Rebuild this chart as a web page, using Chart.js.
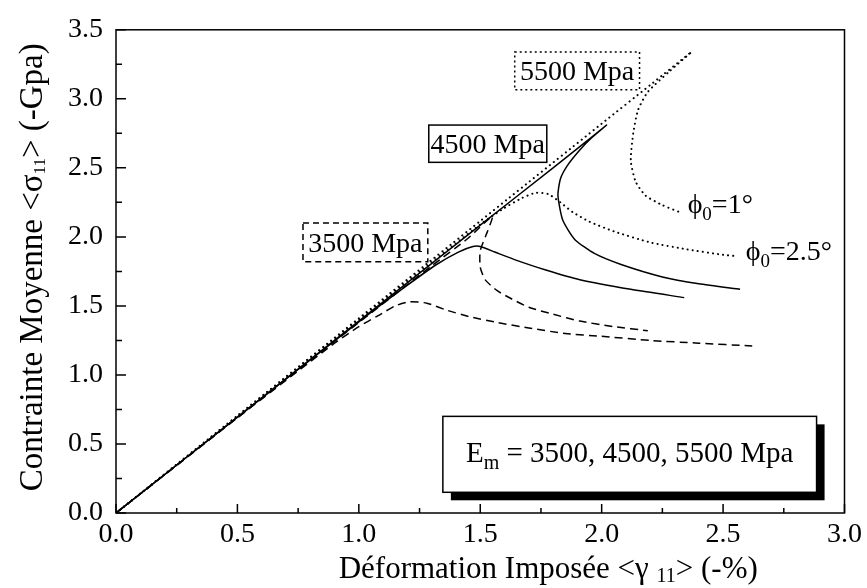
<!DOCTYPE html>
<html>
<head>
<meta charset="utf-8">
<script src="https://cdn.jsdelivr.net/npm/chart.js@4.4.1/dist/chart.umd.min.js"></script>
<style>
  body { margin: 0; background: #fff; }
  canvas { display: block; }
</style>
</head>
<body>
<canvas id="myChart" width="867" height="588"></canvas>
<script>
// values: strain <γ11> in %, stress <σ11> in GPa
const xTickLabels = ['0.0', '0.5', '1.0', '1.5', '2.0', '2.5', '3.0'];
const yTickLabels = ['0.0', '0.5', '1.0', '1.5', '2.0', '2.5', '3.0', '3.5'];

// Em = 3500 MPa (dashed)
const e3500_phi25_x = [0, 0.5, 0.9, 1.0, 1.08, 1.15, 1.21, 1.28, 1.36, 1.46, 1.57, 1.7, 1.85, 2.0, 2.2, 2.4, 2.62];
const e3500_phi25_y = [0, 0.69, 1.23, 1.35, 1.43, 1.50, 1.53, 1.52, 1.47, 1.42, 1.38, 1.34, 1.30, 1.28, 1.25, 1.23, 1.21];
const e3500_phi1_x = [0, 0.5, 1.0, 1.3, 1.45, 1.55, 1.53, 1.50, 1.50, 1.52, 1.57, 1.63, 1.70, 1.80, 1.91, 2.05, 2.19];
const e3500_phi1_y = [0, 0.69, 1.38, 1.79, 1.99, 2.15, 2.04, 1.90, 1.78, 1.69, 1.61, 1.55, 1.49, 1.44, 1.39, 1.35, 1.32];

// Em = 4500 MPa (solid)
const e4500_phi25_x = [0, 0.5, 1.0, 1.2, 1.32, 1.41, 1.47, 1.50, 1.56, 1.65, 1.77, 1.91, 2.12, 2.34];
const e4500_phi25_y = [0, 0.695, 1.385, 1.65, 1.80, 1.89, 1.93, 1.93, 1.89, 1.83, 1.76, 1.69, 1.62, 1.56];
const e4500_phi1_x = [0, 0.5, 1.0, 1.5, 1.8, 1.95, 2.02, 1.96, 1.91, 1.86, 1.83, 1.82, 1.84, 1.89, 1.97, 2.08, 2.25, 2.4, 2.57];
const e4500_phi1_y = [0, 0.695, 1.39, 2.085, 2.50, 2.71, 2.81, 2.72, 2.63, 2.52, 2.42, 2.30, 2.12, 1.98, 1.88, 1.80, 1.71, 1.66, 1.62];

// Em = 5500 MPa (dotted)
const e5500_phi25_x = [0, 0.5, 1.0, 1.5, 1.6, 1.67, 1.73, 1.78, 1.83, 1.88, 1.95, 2.05, 2.2, 2.35, 2.5, 2.56];
const e5500_phi25_y = [0, 0.70, 1.40, 2.09, 2.21, 2.28, 2.32, 2.31, 2.25, 2.18, 2.11, 2.04, 1.96, 1.91, 1.87, 1.86];
const e5500_phi1_x = [0, 0.5, 1.0, 1.5, 2.0, 2.2, 2.37, 2.28, 2.19, 2.15, 2.13, 2.12, 2.14, 2.18, 2.25, 2.32];
const e5500_phi1_y = [0, 0.705, 1.41, 2.115, 2.82, 3.10, 3.34, 3.20, 3.05, 2.92, 2.75, 2.55, 2.40, 2.30, 2.23, 2.18];

const pts = (xs, ys) => xs.map((x, i) => ({ x: x, y: ys[i] }));

const SERIF = "'Liberation Serif', 'Times New Roman', serif";

// boxed labels, placed in data units
const boxLabels = [
    { text: '5500 Mpa', x0: 1.642, x1: 2.156, y0: 3.34, y1: 3.065, dash: [2, 3] },
    { text: '4500 Mpa', x0: 1.288, x1: 1.774, y0: 2.81, y1: 2.54, dash: [] },
    { text: '3500 Mpa', x0: 0.770, x1: 1.284, y0: 2.10, y1: 1.82, dash: [6, 4] }
];
const phiLabels = [
    { value: '=1°', x: 2.354, y: 2.226 },
    { value: '=2.5°', x: 2.593, y: 1.885 }
];
const legendBox = { x0: 1.346, x1: 2.885, y0: 0.70, y1: 0.15 };

// axis titles: [text, font size, baseline shift]
const xTitleParts = [['Déformation Imposée <γ ', 31, 0], ['11', 20, 7], ['> (-%)', 31, 0]];
const yTitleParts = [['Contrainte Moyenne <σ', 33, 0], ['11', 17, 8], ['> (-Gpa)', 33, 0]];

function lineSet(label, data, dash, cap) {
    return {
        label: label,
        data: data,
        showLine: true,
        borderColor: '#000',
        backgroundColor: '#000',
        borderWidth: cap === 'round' ? 2 : 1.5,
        borderDash: dash,
        borderCapStyle: cap || 'butt',
        pointRadius: 0,
        tension: 0.2
    };
}

function drawParts(ctx, parts, cx, cy) {
    let w = 0;
    parts.forEach(p => { ctx.font = p[1] + 'px ' + SERIF; w += ctx.measureText(p[0]).width; });
    let tx = cx - w / 2;
    parts.forEach(p => {
        ctx.font = p[1] + 'px ' + SERIF;
        ctx.fillText(p[0], tx, cy + p[2]);
        tx += ctx.measureText(p[0]).width;
    });
}

const figurePlugin = {
    id: 'figure',
    afterDatasetsDraw(chart) {
        const { ctx, chartArea: a, scales: { x, y } } = chart;
        ctx.save();
        ctx.strokeStyle = '#000';
        ctx.fillStyle = '#000';
        ctx.lineWidth = 1.5;
        ctx.setLineDash([]);
        ctx.strokeRect(a.left, a.top, a.right - a.left, a.bottom - a.top);

        // inward ticks, major every 0.5 and minor every 0.25
        ctx.beginPath();
        for (let i = 0; i <= 12; i++) {
            const px = x.getPixelForValue(i * 0.25);
            const len = i % 2 === 0 ? 9 : 5;
            ctx.moveTo(px, a.bottom);
            ctx.lineTo(px, a.bottom - len);
        }
        for (let i = 0; i <= 14; i++) {
            const py = y.getPixelForValue(i * 0.25);
            const len = i % 2 === 0 ? 10 : 6;
            ctx.moveTo(a.left, py);
            ctx.lineTo(a.left + len, py);
        }
        ctx.stroke();

        // boxed Em labels
        ctx.font = '28px ' + SERIF;
        ctx.textAlign = 'center';
        ctx.textBaseline = 'middle';
        boxLabels.forEach(b => {
            const l = x.getPixelForValue(b.x0), r = x.getPixelForValue(b.x1);
            const t = y.getPixelForValue(b.y0), bt = y.getPixelForValue(b.y1);
            ctx.fillStyle = '#fff';
            ctx.fillRect(l, t, r - l, bt - t);
            ctx.setLineDash(b.dash);
            ctx.lineWidth = 1.5;
            ctx.strokeRect(l, t, r - l, bt - t);
            ctx.setLineDash([]);
            ctx.fillStyle = '#000';
            ctx.font = '28px ' + SERIF;
            ctx.fillText(b.text, (l + r) / 2, (t + bt) / 2 + 2);
        });

        // phi0 labels
        ctx.textAlign = 'left';
        phiLabels.forEach(p => {
            let px = x.getPixelForValue(p.x);
            const py = y.getPixelForValue(p.y);
            ctx.font = '28px ' + SERIF;
            ctx.fillText('\u03D5', px, py);
            px += ctx.measureText('\u03D5').width;
            ctx.font = '19px ' + SERIF;
            ctx.fillText('0', px, py + 9);
            px += ctx.measureText('0').width;
            ctx.font = '28px ' + SERIF;
            ctx.fillText(p.value, px, py);
        });

        // Em legend box with shadow
        const l = x.getPixelForValue(legendBox.x0), r = x.getPixelForValue(legendBox.x1);
        const t = y.getPixelForValue(legendBox.y0), b = y.getPixelForValue(legendBox.y1);
        ctx.fillStyle = '#000';
        ctx.fillRect(l + 8, t + 8, r - l, b - t);
        ctx.fillStyle = '#fff';
        ctx.fillRect(l, t, r - l, b - t);
        ctx.lineWidth = 1.5;
        ctx.strokeRect(l, t, r - l, b - t);
        ctx.fillStyle = '#000';
        drawParts(ctx, [['E', 29, 0], ['m', 20, 9], [' = 3500, 4500, 5500 Mpa', 29, 0]], (l + r) / 2, (t + b) / 2);

        // axis titles with real subscripts
        drawParts(ctx, xTitleParts, x.getPixelForValue(1.78), a.bottom + 57);
        ctx.translate(a.left - 83, y.getPixelForValue(1.78));
        ctx.rotate(-Math.PI / 2);
        drawParts(ctx, yTitleParts, 0, 0);
        ctx.restore();
    }
};

const ctx = document.getElementById('myChart').getContext('2d');
window.myChart = new Chart(ctx, {
    type: 'scatter',
    data: {
        datasets: [
            lineSet('3500 Mpa, phi0=2.5', pts(e3500_phi25_x, e3500_phi25_y), [8, 5]),
            lineSet('3500 Mpa, phi0=1', pts(e3500_phi1_x, e3500_phi1_y), [8, 5]),
            lineSet('4500 Mpa, phi0=2.5', pts(e4500_phi25_x, e4500_phi25_y), []),
            lineSet('4500 Mpa, phi0=1', pts(e4500_phi1_x, e4500_phi1_y), []),
            lineSet('5500 Mpa, phi0=2.5', pts(e5500_phi25_x, e5500_phi25_y), [0.1, 5], 'round'),
            lineSet('5500 Mpa, phi0=1', pts(e5500_phi1_x, e5500_phi1_y), [0.1, 5], 'round')
        ]
    },
    options: {
        responsive: false,
        animation: false,
        devicePixelRatio: 1,
        layout: { padding: { top: 21, right: 22, left: 0, bottom: 0 } },
        plugins: { legend: { display: false }, tooltip: { enabled: false } },
        scales: {
            x: {
                type: 'linear',
                min: 0, max: 3,
                grid: { display: false, drawTicks: false },
                border: { display: false },
                ticks: {
                    stepSize: 0.5,
                    padding: 5,
                    color: '#000',
                    font: { family: SERIF, size: 28 },
                    callback: (v) => xTickLabels[Math.round(v * 2)]
                },
                afterFit: (s) => { s.height = 75; }
            },
            y: {
                type: 'linear',
                min: 0, max: 3.5,
                grid: { display: false, drawTicks: false },
                border: { display: false },
                ticks: {
                    stepSize: 0.5,
                    padding: 13,
                    color: '#000',
                    font: { family: SERIF, size: 28 },
                    callback: (v) => yTickLabels[Math.round(v * 2)]
                },
                afterFit: (s) => { s.width = 116; }
            }
        }
    },
    plugins: [figurePlugin]
});
</script>
</body>
</html>
